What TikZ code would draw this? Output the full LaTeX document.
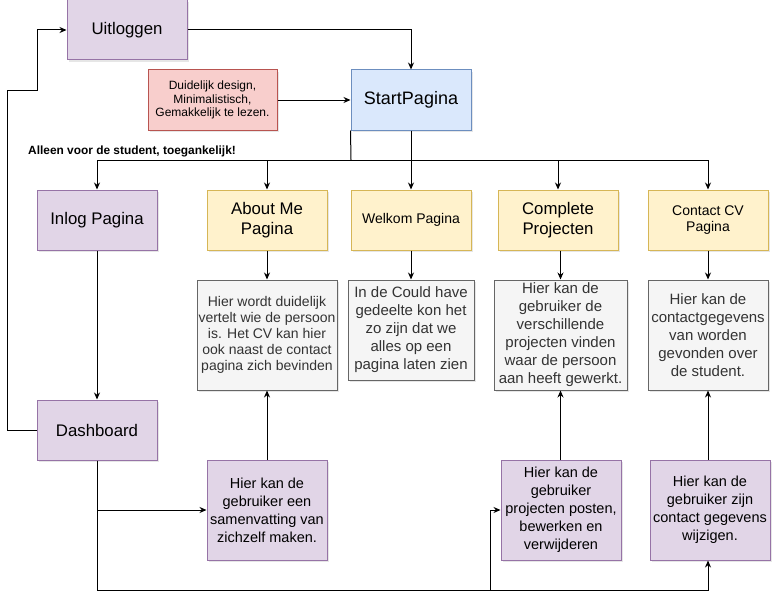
\documentclass[tikz,border=0pt]{standalone}
\usepackage{fontspec}
\setmainfont{Liberation Sans}
\usetikzlibrary{positioning,shadows,arrows.meta}
\definecolor{paarsvul}{HTML}{E1D5E7}
\definecolor{paarsrand}{HTML}{9673A6}
\definecolor{geelvul}{HTML}{FFF2CC}
\definecolor{geelrand}{HTML}{D6B656}
\definecolor{blauwvul}{HTML}{DAE8FC}
\definecolor{blauwrand}{HTML}{6C8EBF}
\definecolor{roodvul}{HTML}{F8CECC}
\definecolor{roodrand}{HTML}{B85450}
\definecolor{grijsvul}{HTML}{F5F5F5}
\definecolor{grijsrand}{HTML}{666666}
\definecolor{grijstekst}{HTML}{333333}
\tikzset{x=1pt, y=-1pt,
  blok/.style={draw, rectangle, line width=1pt, minimum width=120pt, minimum height=60pt,
    inner sep=0pt, align=center, font=\fontsize{16.8}{19.5}\selectfont,
    drop shadow={shadow xshift=2pt, shadow yshift=-2pt, opacity=0.2}},
  paars/.style={blok, fill=paarsvul, draw=paarsrand},
  geel/.style={blok, fill=geelvul, draw=geelrand},
  blauw/.style={blok, fill=blauwvul, draw=blauwrand},
  rood/.style={blok, fill=roodvul, draw=roodrand},
  grijs/.style={blok, fill=grijsvul, draw=grijsrand, text=grijstekst, font=\fontsize{15}{18}\selectfont},
  uitleg/.style={paars, minimum height=100pt, font=\fontsize{14.5}{18}\selectfont},
  klein/.style={font=\fontsize{14}{16}\selectfont},
  pijl/.style={-{Stealth[length=7pt,width=6pt]}, line width=1pt},
  lijn/.style={line width=1pt}}

\begin{document}
\begin{tikzpicture}
  \useasboundingbox (0,0) rectangle (779,610);

  \node[paars] (uit) at (127,30) {Uitloggen};
  \node[rood, minimum width=129pt, font=\fontsize{12}{13.3}\selectfont] (eisen) at (212.5,100)
    {Duidelijk design,\\Minimalistisch,\\Gemakkelijk te lezen.};
  \node[blauw, font=\fontsize{18}{20}\selectfont] (start) at (411,100) {StartPagina};
  \node[anchor=west, inner sep=0pt, font=\bfseries\fontsize{11.9}{13}\selectfont] (alleen) at (28,151)
    {Alleen voor de student, toegankelijk!};

  % tweede rij
  \node[paars] (inlog) at (97,220) {Inlog Pagina};
  \node[geel] (about) at (267,220) {About Me\\Pagina};
  \node[geel, klein] (welkom) at (411,220) {Welkom Pagina};
  \node[geel] (complete) at (558,220) {Complete\\Projecten};
  \node[geel, klein] (contact) at (708,220) {Contact CV\\Pagina};

  % uitleg
  \node[grijs, minimum width=140pt, minimum height=110pt, klein] (aboutinfo) at (267,335)
    {Hier wordt duidelijk\\vertelt wie de persoon\\is. Het CV kan hier\\ook naast de contact\\pagina zich bevinden};
  \node[grijs, minimum width=126pt, minimum height=100pt] (welkominfo) at (411,330)
    {In de Could have\\gedeelte kon het\\zo zijn dat we\\alles op een\\pagina laten zien};
  \node[grijs, minimum width=133pt, minimum height=110pt] (completeinfo) at (560.5,335)
    {Hier kan de\\gebruiker de\\verschillende\\projecten vinden\\waar de persoon\\aan heeft gewerkt.};
  \node[grijs, minimum height=110pt] (contactinfo) at (708,335)
    {Hier kan de\\contactgegevens\\van worden\\gevonden over\\de student.};

  \node[paars] (dash) at (97,430) {Dashboard};
  \node[uitleg] (samen) at (267,510) {Hier kan de\\gebruiker een\\samenvatting van\\zichzelf maken.};
  \node[uitleg] (posten) at (561,510) {Hier kan de\\gebruiker\\projecten posten,\\bewerken en\\verwijderen};
  \node[uitleg] (wijzig) at (710,510) {Hier kan de\\gebruiker zijn\\contact gegevens\\wijzigen.};

  \coordinate (splits) at (351,160);
  \coordinate (lus1) at (7,90);
  \coordinate (lus2) at (37,90);
  \coordinate (hoek) at (97,590);
  \coordinate (tak) at (490,590);

  \draw[pijl] (uit.east) -| (start.north);
  \draw[pijl] (eisen) -- (start);
  \draw[pijl] (start) -- (welkom);
  \draw[pijl] (inlog) -- (dash);
  \draw[pijl] (about) -- (aboutinfo);
  \draw[pijl] (welkom) -- (welkominfo);
  \draw[pijl] (complete.south -| completeinfo) -- (completeinfo.north);
  \draw[pijl] (contact) -- (contactinfo);
  \draw[pijl] (samen) -- (aboutinfo);
  \draw[pijl] (posten.north -| completeinfo) -- (completeinfo.south);
  \draw[pijl] (wijzig.north -| contactinfo) -- (contactinfo.south);

  \draw[lijn] (start.south west) -- (splits);
  \draw[pijl] (splits) -| (inlog.north);
  \draw[pijl] (splits) -| (about.north);
  \draw[pijl] (splits) -| (complete.north);
  \draw[pijl] (splits) -| (contact.north);

  \draw[pijl] (dash.west) -| (lus1) -- (lus2) |- (uit.west);
  \draw[pijl] (dash.south) |- (samen.west);
  \draw[pijl] (dash.south) -- (hoek) -| (wijzig.south -| contactinfo);
  \draw[pijl] (tak) |- (posten.west);
\end{tikzpicture}
\end{document}
